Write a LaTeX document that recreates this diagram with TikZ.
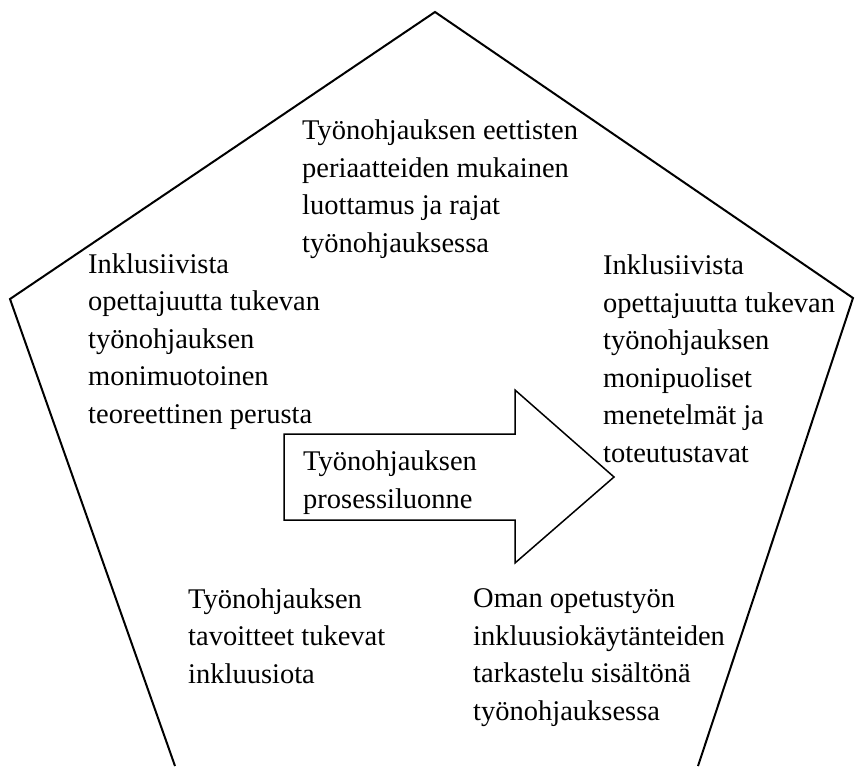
\documentclass[tikz,border=0pt]{standalone}
\usepackage{fontspec}
\setmainfont{Liberation Serif}
\usepackage{tikz}

\begin{document}
\begin{tikzpicture}[x=1pt,y=-1pt,
  lbl/.style={anchor=base west,inner sep=0pt,align=left,font=\fontsize{28.5}{37.5}\selectfont}]
  \path[use as bounding box,fill=white] (0,0) rectangle (856,766);
  \draw[line width=2pt,line join=miter] (175,766) -- (10,299) -- (435,12) -- (853,298) -- (698,766);
  \draw[line width=1.5pt,fill=white] (284,434) --++ (231,0) --++ (0,-44) --++ (99,87) --++ (-99,86) --++ (0,-43) --++ (-231,0) -- cycle;

  \node[lbl] (ethics) at (302,252) {Työnohjauksen eettisten\\periaatteiden mukainen\\luottamus ja rajat\\työnohjauksessa};
  \node[lbl] (theory) at (88,423) {Inklusiivista\\opettajuutta tukevan\\työnohjauksen\\monimuotoinen\\teoreettinen perusta};
  \node[lbl] (methods) at (603,462) {Inklusiivista\\opettajuutta tukevan\\työnohjauksen\\monipuoliset\\menetelmät ja\\toteutustavat};
  \node[lbl] (process) at (303,508) {Työnohjauksen\\prosessiluonne};
  \node[lbl] (goals) at (188,683) {Työnohjauksen\\tavoitteet tukevat\\inkluusiota};
  \node[lbl] (content) at (473,720) {Oman opetustyön\\inkluusiokäytänteiden\\tarkastelu sisältönä\\työnohjauksessa};
\end{tikzpicture}
\end{document}
